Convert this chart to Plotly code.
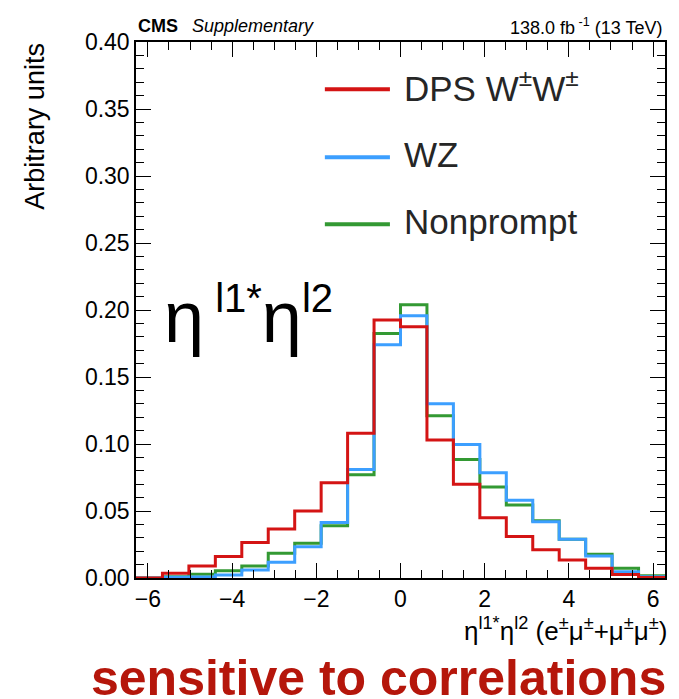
import numpy as np
import plotly.graph_objects as go

# ---- data (bin contents) ----
bin_edges = np.linspace(-2 * np.pi, 2 * np.pi, 21)
dps_wpwp = [0.000, 0.0035, 0.009, 0.016, 0.0264, 0.0366, 0.050, 0.071, 0.108, 0.1925,
            0.1875, 0.103, 0.070, 0.045, 0.031, 0.021, 0.0134, 0.0072, 0.0027, 0.0003]
wz = [0.000, 0.0005, 0.0007, 0.0023, 0.006, 0.0117, 0.0234, 0.0415, 0.081, 0.174,
      0.1957, 0.130, 0.0997, 0.0786, 0.058, 0.042, 0.0289, 0.0164, 0.0047, 0.001]
nonprompt = [0.000, 0.001, 0.0028, 0.0055, 0.009, 0.0184, 0.026, 0.039, 0.077, 0.1825,
             0.204, 0.121, 0.0885, 0.068, 0.0545, 0.0428, 0.0289, 0.0177, 0.0072, 0.0017]
series_names = ["DPS W<sup>±</sup>W<sup>±</sup>", "WZ", "Nonprompt"]
x_ticks = [-6, -4, -2, 0, 2, 4, 6]
y_ticks = [0.00, 0.05, 0.10, 0.15, 0.20, 0.25, 0.30, 0.35, 0.40]

RED, BLUE, GREEN = "#d41414", "#3c9fff", "#339933"
FONT = "Liberation Sans, Arial, Helvetica, sans-serif"

fig = go.Figure()
for vals, col in [(nonprompt, GREEN), (wz, BLUE), (dps_wpwp, RED)]:
    fig.add_trace(go.Scatter(
        x=bin_edges, y=list(vals) + [vals[-1]], mode="lines",
        line=dict(color=col, width=3, shape="hv"), showlegend=False,
        hoverinfo="skip"))

axis_common = dict(
    showline=True, linecolor="black", linewidth=1.5, mirror="allticks",
    ticks="inside", ticklen=15, tickwidth=1.2, tickcolor="black",
    showgrid=False, zeroline=False,
    tickfont=dict(family=FONT, size=23, color="black"),
)
fig.update_xaxes(range=[-2 * np.pi, 2 * np.pi], tickvals=x_ticks,
                 ticktext=[("−" + str(-v)) if v < 0 else str(v) for v in x_ticks],
                 minor=dict(dtick=0.5, ticks="inside", ticklen=8, tickcolor="black", tickwidth=1.2),
                 ticklabelstandoff=0, **axis_common)
fig.update_yaxes(range=[0, 0.4], tickvals=y_ticks,
                 ticktext=[f"{v:.2f}" for v in y_ticks],
                 minor=dict(dtick=0.01, ticks="inside", ticklen=8, tickcolor="black", tickwidth=1.2),
                 **axis_common)

ann = []
# legend (manual, to match long line samples)
leg_y = [0.912, 0.785, 0.660]
leg_cols = [RED, BLUE, GREEN]
shapes = []
for name, yy, col in zip(series_names, leg_y, leg_cols):
    shapes.append(dict(type="line", xref="paper", yref="paper", x0=0.357, x1=0.480,
                       y0=yy, y1=yy, line=dict(color=col, width=4)))
    ann.append(dict(text=name, xref="paper", yref="paper", x=0.503, y=yy, yshift=3,
                    xanchor="left", yanchor="middle", showarrow=False,
                    font=dict(family=FONT, size=35, color="#262626")))

# big label inside plot
big_sup = '<sup><span style="font-size:40px">{}</span></sup>'
ann.append(dict(text="η" + big_sup.format("&nbsp;l1*") + "η" + big_sup.format("l2"),
                xref="paper", yref="paper",
                x=0.050, y=0.488, xanchor="left", yanchor="middle", showarrow=False,
                font=dict(family=FONT, size=72, color="black")))
# top labels
ann.append(dict(text="<b>CMS</b>", xref="paper", yref="paper", x=0.0, y=1.030,
                xanchor="left", yanchor="middle", showarrow=False,
                font=dict(family=FONT, size=18, color="black")))
ann.append(dict(text="<i>Supplementary</i>", xref="paper", yref="paper", x=0.103, y=1.030,
                xanchor="left", yanchor="middle", showarrow=False,
                font=dict(family=FONT, size=18, color="black")))
ann.append(dict(text="138.0 fb<sup> -1</sup> (13 TeV)", xref="paper", yref="paper",
                x=0.9975, y=1.028, xanchor="right", yanchor="middle", showarrow=False,
                font=dict(family=FONT, size=18, color="black")))
# axis titles
ann.append(dict(text="η<sup>l1*</sup>η<sup>l2</sup> (e<sup>±</sup>μ<sup>±</sup>+μ<sup>±</sup>μ<sup>±</sup>)",
                xref="paper", yref="paper", x=1.008, y=-0.097, xanchor="right", yanchor="middle",
                showarrow=False, font=dict(family=FONT, size=26, color="black")))
ann.append(dict(text="Arbitrary units", xref="paper", yref="paper", x=-0.190, y=0.843,
                xanchor="center", yanchor="middle", textangle=-90, showarrow=False,
                font=dict(family=FONT, size=27, color="black")))
# bottom caption
ann.append(dict(text="<b>sensitive to correlations</b>", xref="paper", yref="paper",
                x=-0.089, y=-0.186, xanchor="left", yanchor="middle", showarrow=False,
                font=dict(family=FONT, size=50, color="#b5160b")))

# the page adds an 8 px body margin, so the figure is 8 px smaller and offset accordingly
fig.update_layout(
    width=671, height=691, autosize=False,
    margin=dict(l=128, r=12, t=34, b=121),
    plot_bgcolor="white", paper_bgcolor="white",
    annotations=ann, shapes=shapes, showlegend=False,
)
fig.write_html("out.html")
